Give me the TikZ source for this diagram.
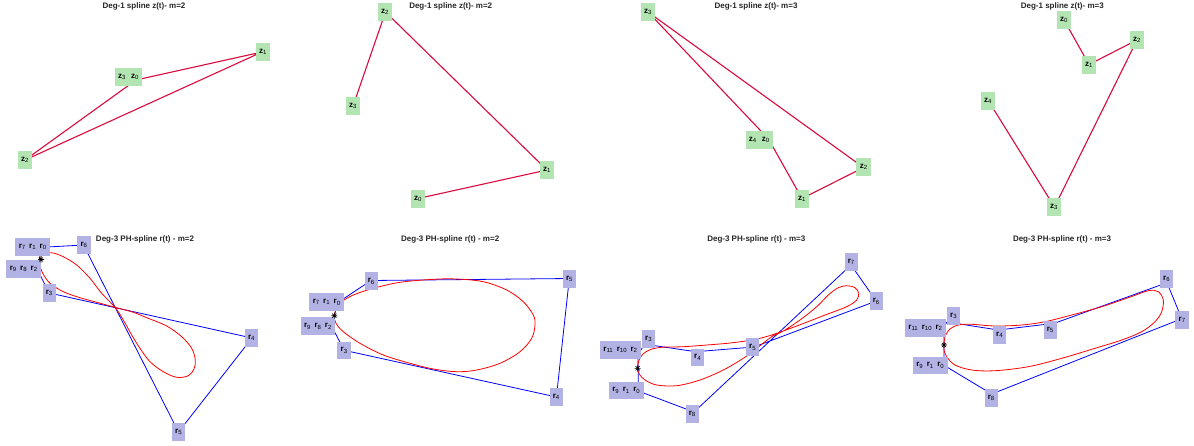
\documentclass[tikz,border=0pt]{standalone}
\usepackage{fontspec}
\setmainfont{Liberation Sans}
\definecolor{zfill}{rgb}{0.7,0.9,0.7}
\definecolor{rfill}{rgb}{0.7,0.7,0.9}
\definecolor{zcol}{rgb}{0.86,0.04,0.24}
\newcommand{\zs}[1]{\textbf{z}\textsubscript{#1}}
\newcommand{\rs}[1]{\textbf{r}\textsubscript{#1}}

\begin{document}
\begin{tikzpicture}[x=1pt,y=-1pt,
	ttl/.style={font=\fontsize{8}{9}\selectfont\bfseries,text=black!85},
	zlab/.style={fill=zfill,inner xsep=3.3pt,inner ysep=0pt,minimum height=18pt,font=\fontsize{8}{9}\selectfont},
	rlab/.style={fill=rfill,inner xsep=3.3pt,inner ysep=0pt,minimum height=17.7pt,font=\fontsize{8}{9}\selectfont},
	zpoly/.style={zcol,line width=1.1pt},
	ctrl/.style={blue,line width=0.8pt},
	splcurve/.style={red,line width=0.8pt},
	astk/.pic={\draw[black,line width=0.6pt] (-3,0) -- (3,0) (0,-3) -- (0,3) (-2.1,-2.1) -- (2.1,2.1) (-2.1,2.1) -- (2.1,-2.1);}]
	\useasboundingbox (0,0) rectangle (1194,445);
	
	% top row: deg-1 splines
	\begin{scope}
		\node[ttl] (t1) at (144,6) {Deg-1 spline z(t)- m=2};
		\coordinate (p1z0) at (136,80);
		\coordinate (p1z1) at (262,52);
		\coordinate (p1z2) at (25,160);
		\coordinate (p1z3) at (136,80);
		\draw[zpoly] (p1z0) -- (p1z1) -- (p1z2) -- (p1z3);
		\node[zlab] (l1z30) at (128.5,77) {\zs{3}\hspace{5pt}\zs{0}};
		\node[zlab] (l1z1) at (263,52) {\zs{1}};
		\node[zlab] (l1z2) at (25,160) {\zs{2}};
	\end{scope}
	
	\begin{scope}[shift={(300,0)}]
		\node[ttl] (t2) at (150.7,6) {Deg-1 spline z(t)- m=2};
		\coordinate (p2z0) at (118,198.5);
		\coordinate (p2z1) at (247,170);
		\coordinate (p2z2) at (85.5,12);
		\coordinate (p2z3) at (53,106);
		\draw[zpoly] (p2z0) -- (p2z1) -- (p2z2) -- (p2z3);
		\node[zlab] (l2z0) at (118,199) {\zs{0}};
		\node[zlab] (l2z1) at (247,170) {\zs{1}};
		\node[zlab] (l2z2) at (85,12) {\zs{2}};
		\node[zlab] (l2z3) at (53,106) {\zs{3}};
	\end{scope}
	
	\begin{scope}[shift={(600,0)}]
		\node[ttl] (t3) at (156,6) {Deg-1 spline z(t)- m=3};
		\coordinate (p3z0) at (168.5,139);
		\coordinate (p3z1) at (202,198.5);
		\coordinate (p3z2) at (263.5,167.5);
		\coordinate (p3z3) at (48,12);
		\coordinate (p3z4) at (168.5,139);
		\draw[zpoly] (p3z0) -- (p3z1) -- (p3z2) -- (p3z3) -- (p3z4);
		\node[zlab] (l3z40) at (159.3,140) {\zs{4}\hspace{5pt}\zs{0}};
		\node[zlab] (l3z1) at (202,199) {\zs{1}};
		\node[zlab] (l3z2) at (263.7,167) {\zs{2}};
		\node[zlab] (l3z3) at (48,12) {\zs{3}};
	\end{scope}
	
	\begin{scope}[shift={(900,0)}]
		\node[ttl] (t4) at (162.3,6) {Deg-1 spline z(t)- m=3};
		\coordinate (p4z0) at (164,20);
		\coordinate (p4z1) at (189,64.5);
		\coordinate (p4z2) at (237,40);
		\coordinate (p4z3) at (154.5,207);
		\coordinate (p4z4) at (88.5,101);
		\draw[zpoly] (p4z0) -- (p4z1) -- (p4z2) -- (p4z3) -- (p4z4);
		\node[zlab] (l4z0) at (164,20) {\zs{0}};
		\node[zlab] (l4z1) at (189,65) {\zs{1}};
		\node[zlab] (l4z2) at (237,40) {\zs{2}};
		\node[zlab] (l4z3) at (154,207) {\zs{3}};
		\node[zlab] (l4z4) at (88,101) {\zs{4}};
	\end{scope}
	
	% bottom row: deg-3 PH splines
	\begin{scope}[shift={(0,225)}]
		\node[ttl] (t5) at (145,14.3) {Deg-3 PH-spline r(t) - m=2};
		\coordinate (p5r0) at (42,22.3);
		\coordinate (p5r1) at (42,22.3);
		\coordinate (p5r2) at (37,44);
		\coordinate (p5r3) at (49.3,68);
		\coordinate (p5r4) at (252,113);
		\coordinate (p5r5) at (178.5,207);
		\coordinate (p5r6) at (83.5,20);
		\coordinate (p5r7) at (42,22.3);
		\coordinate (p5r8) at (37,44);
		\coordinate (p5r9) at (37,44);
		\draw[ctrl] (p5r0) \foreach \i in {1,...,9}{ -- (p5r\i)};
		\draw[splcurve] plot[smooth cycle,tension=0.55] coordinates {(40.7,33.3) (41.7,30) (46.7,28) (53.3,28) (63.3,31.7) (76.7,40) (90,53.3) (101.7,68.3) (115,82.3) (123.3,95) (131.7,110) (140,123.3) (150,136.7) (163.3,146.7) (176.7,152.3) (188.3,150.7) (194,144) (195.3,135) (191.7,123.3) (181.7,111.7) (166.7,101) (146.7,92.7) (133.3,87.3) (115,82.3) (96.7,77.3) (80,72.7) (63.3,66.7) (50,58.3) (42.7,48.3) (40,40)};
		\node[rlab] (l5a) at (32.7,22) {\rs{7}\hspace{3.5pt}\rs{1}\hspace{3.5pt}\rs{0}};
		\node[rlab] (l5b) at (23.7,44) {\rs{9}\hspace{3.5pt}\rs{8}\hspace{3.5pt}\rs{2}};
		\node[rlab] (l5r3) at (49.3,68) {\rs{3}};
		\node[rlab] (l5r4) at (251.5,113) {\rs{4}};
		\node[rlab] (l5r5) at (178.7,207) {\rs{5}};
		\node[rlab] (l5r6) at (84,20) {\rs{6}};
		\pic at (41,34.5) {astk};
	\end{scope}
	
	\begin{scope}[shift={(300,225)}]
		\node[ttl] (t6) at (150.2,14.3) {Deg-3 PH-spline r(t) - m=2};
		\coordinate (p6r0) at (38,77.4);
		\coordinate (p6r1) at (38,77.4);
		\coordinate (p6r2) at (31.5,101);
		\coordinate (p6r3) at (44.2,125.3);
		\coordinate (p6r4) at (256.4,172);
		\coordinate (p6r5) at (269.3,53.5);
		\coordinate (p6r6) at (71,55.5);
		\coordinate (p6r7) at (38,77.4);
		\coordinate (p6r8) at (31.5,101);
		\coordinate (p6r9) at (31.5,101);
		\draw[ctrl] (p6r0) \foreach \i in {1,...,9}{ -- (p6r\i)};
		\draw[splcurve] plot[smooth cycle,tension=0.55] coordinates {(34.3,90.7) (36.7,83.3) (41.7,76.7) (53.3,70) (73.3,63.3) (100,57.3) (133.3,54.3) (156.7,54) (183.3,56.7) (206.7,65) (223.3,76.7) (233.3,90) (235,100) (231.7,113.3) (220,126.7) (200,138.3) (176.7,145) (156.7,146.7) (133.3,144) (110,138.3) (83.3,130) (60,118.3) (43.3,106.7) (36,98.3)};
		\node[rlab] (l6a) at (26.7,77.2) {\rs{7}\hspace{3.5pt}\rs{1}\hspace{3.5pt}\rs{0}};
		\node[rlab] (l6b) at (18,101.2) {\rs{9}\hspace{3.5pt}\rs{8}\hspace{3.5pt}\rs{2}};
		\node[rlab] (l6r3) at (44.2,125.5) {\rs{3}};
		\node[rlab] (l6r4) at (256.3,172) {\rs{4}};
		\node[rlab] (l6r5) at (269.5,53.8) {\rs{5}};
		\node[rlab] (l6r6) at (71.3,56.2) {\rs{6}};
		\pic at (34.3,90.7) {astk};
	\end{scope}
	
	\begin{scope}[shift={(590,225)}]
		\node[ttl] (t7) at (166.3,14.3) {Deg-3 PH-spline r(t) - m=3};
		\coordinate (p7r0) at (48.3,166);
		\coordinate (p7r1) at (48.3,166);
		\coordinate (p7r2) at (48,129.3);
		\coordinate (p7r3) at (54.8,119.2);
		\coordinate (p7r4) at (105.7,126.7);
		\coordinate (p7r5) at (164,122);
		\coordinate (p7r6) at (286.3,76);
		\coordinate (p7r7) at (261,40);
		\coordinate (p7r8) at (104,187);
		\coordinate (p7r9) at (48.3,166);
		\coordinate (p7r10) at (48,129.3);
		\coordinate (p7r11) at (48,129.3);
		\draw[ctrl] (p7r0) \foreach \i in {1,...,11}{ -- (p7r\i)};
		\draw[splcurve] plot[smooth cycle,tension=0.55] coordinates {(47.7,143.3) (48.7,136) (52.7,129.3) (60,124.7) (71.7,122.3) (93.3,121.7) (116.7,120) (140,118) (163.3,114.7) (181.7,110) (206.7,101) (233.3,90.7) (256.7,81.7) (266.7,75) (268.7,68.3) (265,62.7) (256.7,60.7) (248.3,62.7) (238.3,70) (226.7,81.7) (210,95) (193.3,106) (181.7,111.7) (166.7,123.3) (153.3,133.3) (133.3,145) (110,155) (86.7,160.7) (66.7,160) (55,155) (49.3,149)};
		\node[rlab] (l7c) at (30.5,125) {\rs{11}\hspace{3.5pt}\rs{10}\hspace{3.5pt}\rs{2}};
		\node[rlab] (l7d) at (36.3,165.5) {\rs{9}\hspace{3.5pt}\rs{1}\hspace{3.5pt}\rs{0}};
		\node[rlab] (l7r3) at (58.7,113.8) {\rs{3}};
		\node[rlab] (l7r4) at (107.7,132.5) {\rs{4}};
		\node[rlab] (l7r5) at (162.7,122.2) {\rs{5}};
		\node[rlab] (l7r6) at (286.3,76.2) {\rs{6}};
		\node[rlab] (l7r7) at (261.3,37) {\rs{7}};
		\node[rlab] (l7r8) at (102.3,188.8) {\rs{8}};
		\pic at (47.7,143.3) {astk};
	\end{scope}
	
	\begin{scope}[shift={(895,225)}]
		\node[ttl] (t8) at (167,14.3) {Deg-3 PH-spline r(t) - m=3};
		\coordinate (p8r0) at (49,140.3);
		\coordinate (p8r1) at (49,140.3);
		\coordinate (p8r2) at (49,101.7);
		\coordinate (p8r3) at (52,97);
		\coordinate (p8r4) at (103.3,105);
		\coordinate (p8r5) at (159.3,98.3);
		\coordinate (p8r6) at (272,57.7);
		\coordinate (p8r7) at (286.7,93.7);
		\coordinate (p8r8) at (96.7,169);
		\coordinate (p8r9) at (49,140.3);
		\coordinate (p8r10) at (49,101.7);
		\coordinate (p8r11) at (49,101.7);
		\draw[ctrl] (p8r0) \foreach \i in {1,...,11}{ -- (p8r\i)};
		\draw[splcurve] plot[smooth cycle,tension=0.55] coordinates {(49,120) (50,111.7) (55,104) (63.3,100) (76.7,99.3) (100,101) (126.7,100) (150,96.7) (176.7,90) (206.7,81.7) (233.3,72.7) (253.3,65.7) (263.3,66.7) (268.3,75) (266.7,86.7) (260,96.7) (246.7,106.7) (226.7,115) (200,123.3) (166.7,133.3) (133.3,141.7) (100,145.7) (76.7,145) (60,140) (51.7,131.7) (49,125)};
		\node[rlab] (l8c) at (30.5,103) {\rs{11}\hspace{3.5pt}\rs{10}\hspace{3.5pt}\rs{2}};
		\node[rlab] (l8d) at (35.3,140.5) {\rs{9}\hspace{3.5pt}\rs{1}\hspace{3.5pt}\rs{0}};
		\node[rlab] (l8r3) at (58.7,91) {\rs{3}};
		\node[rlab] (l8r4) at (104.7,109.8) {\rs{4}};
		\node[rlab] (l8r5) at (155.3,104.7) {\rs{5}};
		\node[rlab] (l8r6) at (271.7,53.8) {\rs{6}};
		\node[rlab] (l8r7) at (287.2,94.7) {\rs{7}};
		\node[rlab] (l8r8) at (96.3,172.8) {\rs{8}};
		\pic at (49,120) {astk};
	\end{scope}
\end{tikzpicture}
\end{document}
